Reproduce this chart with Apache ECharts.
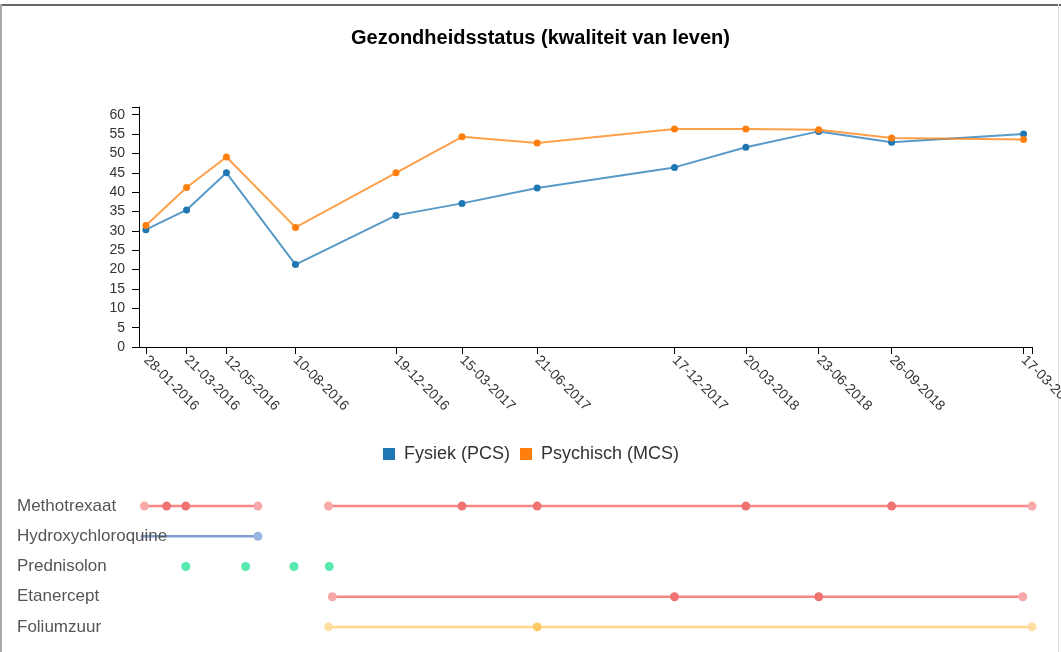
<!DOCTYPE html>
<html>
<head>
<meta charset="utf-8">
<title>Gezondheidsstatus</title>
<script src="https://cdn.jsdelivr.net/npm/echarts@6/dist/echarts.min.js"></script>
<style>
html, body { margin: 0; padding: 0; background: #fff; }
#chart { width: 1061px; height: 652px; }
</style>
</head>
<body>
<div id="chart"></div>
<script>
// meetmomenten + scores
var visitDates = ['2016-01-28', '2016-03-21', '2016-05-12', '2016-08-10', '2016-12-19', '2017-03-15',
  '2017-06-21', '2017-12-17', '2018-03-20', '2018-06-23', '2018-09-26', '2019-03-17'];
var pcsValues = [30.3, 35.4, 45.0, 21.3, 34.0, 37.1, 41.1, 46.4, 51.6, 55.7, 52.9, 55.0];
var mcsValues = [31.4, 41.2, 49.1, 30.9, 45.0, 54.3, 52.7, 56.3, 56.3, 56.1, 54.0, 53.6];
var yTicks = [0, 5, 10, 15, 20, 25, 30, 35, 40, 45, 50, 55, 60];
var yTop = 62;
var axisStart = '2016-01-19';
var axisEnd = '2019-03-28';

// medicatie
var medNames = ['Methotrexaat', 'Hydroxychloroquine', 'Prednisolon', 'Etanercept', 'Foliumzuur'];
var mtxPeriod1 = ['2016-01-26', '2016-02-24', '2016-03-20', '2016-06-22'];
var mtxPeriod2 = ['2016-09-22', '2017-03-15', '2017-06-21', '2018-03-20', '2018-09-26', '2019-03-28'];
var hcqPeriod = ['2016-01-21', '2016-06-22'];
var predDoses = ['2016-03-20', '2016-06-06', '2016-08-08', '2016-09-23'];
var etaPeriod = ['2016-09-27', '2017-12-17', '2018-06-23', '2019-03-16'];
var folPeriod = ['2016-09-22', '2017-06-21', '2019-03-28'];

function ts(s) {
  var p = s.split('-');
  return Date.UTC(+p[0], +p[1] - 1, +p[2]);
}
function pad(n) {
  return n < 10 ? '0' + n : '' + n;
}
function fmtDate(v) {
  var d = new Date(v);
  return pad(d.getUTCDate()) + '-' + pad(d.getUTCMonth() + 1) + '-' + d.getUTCFullYear();
}

var visitTs = visitDates.map(ts);
var GRID_LEFT = 139;
var GRID_RIGHT = 29;
var FONT = 'Liberation Sans, Arial, sans-serif';

// een lijn per periode, begin/eind lichter
function medLine(name, dates, color, hideStart) {
  return {
    name: name,
    type: 'line',
    xAxisIndex: 1,
    yAxisIndex: 1,
    symbol: 'circle',
    symbolSize: 9,
    lineStyle: { color: color.line, width: 2.5 },
    data: dates.map(function(d, i) {
      var edge = i === 0 || i === dates.length - 1;
      var item = { value: [ts(d), name], itemStyle: { color: edge ? color.light : color.dot } };
      if (i === 0 && hideStart) item.symbol = 'none';
      return item;
    }),
    z: 2
  };
}

var red = { line: '#f58787', dot: '#f07373', light: '#f7a9a9' };
var blue = { line: '#7f9fd3', dot: '#7f9fd3', light: '#98b5e2' };
var yellow = { line: '#ffd88e', dot: '#ffc965', light: '#ffdea3' };

var chart = echarts.init(document.getElementById('chart'));
var option = {
  animation: false,
  backgroundColor: '#fff',
  title: {
    text: 'Gezondheidsstatus (kwaliteit van leven)',
    left: 346,
    top: 23,
    textStyle: { fontSize: 20, fontWeight: 'bold', color: '#000', fontFamily: FONT }
  },
  legend: {
    data: ['Fysiek (PCS)', 'Psychisch (MCS)'],
    top: 440,
    left: 378,
    icon: 'rect',
    itemWidth: 12,
    itemHeight: 12,
    itemGap: 10,
    textStyle: { fontSize: 18, color: '#333', fontFamily: FONT, padding: [0, 0, 0, 4] }
  },
  graphic: [
    { type: 'rect', shape: { x: 0, y: 4, width: 1061, height: 2 }, style: { fill: '#666' } },
    { type: 'rect', shape: { x: 0, y: 4, width: 2, height: 648 }, style: { fill: '#aaa' } },
    { type: 'rect', shape: { x: 1058, y: 4, width: 1, height: 648 }, style: { fill: '#ddd' } }
  ],
  grid: [
    { left: GRID_LEFT, right: GRID_RIGHT, top: 107, bottom: 305, outerBoundsMode: 'none' },
    { left: GRID_LEFT, right: GRID_RIGHT, top: 491, bottom: 10, outerBoundsMode: 'none' }
  ],
  xAxis: [
    {
      type: 'value',
      gridIndex: 0,
      min: ts(axisStart),
      max: ts(axisEnd),
      axisLine: { show: true, onZero: false, lineStyle: { color: '#000', width: 1 } },
      axisTick: { show: true, length: 7, customValues: visitTs.concat([ts(axisEnd)]), lineStyle: { color: '#000' } },
      axisLabel: {
        customValues: visitTs,
        rotate: -45,
        margin: 11,
        formatter: fmtDate,
        color: '#333',
        fontSize: 14,
        fontFamily: FONT
      },
      splitLine: { show: false }
    },
    {
      type: 'value',
      gridIndex: 1,
      min: ts(axisStart),
      max: ts(axisEnd),
      show: false
    }
  ],
  yAxis: [
    {
      type: 'value',
      gridIndex: 0,
      min: 0,
      max: yTop,
      axisLine: { show: true, lineStyle: { color: '#000', width: 1 } },
      axisTick: { show: true, length: 7, customValues: yTicks.concat([yTop]), lineStyle: { color: '#000' } },
      axisLabel: { customValues: yTicks, margin: 14, color: '#333', fontSize: 14, fontFamily: FONT },
      splitLine: { show: false }
    },
    {
      type: 'category',
      gridIndex: 1,
      data: medNames,
      inverse: true,
      z: 5,
      axisLine: { show: false },
      axisTick: { show: false },
      axisLabel: { align: 'left', margin: 122, color: '#555', fontSize: 17, fontFamily: FONT },
      splitLine: { show: false }
    }
  ],
  series: [
    {
      name: 'Fysiek (PCS)',
      type: 'line',
      symbol: 'circle',
      symbolSize: 7,
      itemStyle: { color: '#1f77b4' },
      lineStyle: { color: '#1f77b4', width: 2, opacity: 0.75 },
      data: visitTs.map(function(t, i) { return [t, pcsValues[i]]; })
    },
    {
      name: 'Psychisch (MCS)',
      type: 'line',
      symbol: 'circle',
      symbolSize: 7,
      itemStyle: { color: '#ff7f0e' },
      lineStyle: { color: '#ff7f0e', width: 2, opacity: 0.75 },
      data: visitTs.map(function(t, i) { return [t, mcsValues[i]]; })
    },
    medLine('Methotrexaat', mtxPeriod1, red),
    medLine('Methotrexaat', mtxPeriod2, red),
    medLine('Hydroxychloroquine', hcqPeriod, blue, true),
    {
      name: 'Prednisolon',
      type: 'scatter',
      xAxisIndex: 1,
      yAxisIndex: 1,
      symbol: 'circle',
      symbolSize: 9,
      itemStyle: { color: '#2de39a' },
      data: predDoses.map(function(d) { return [ts(d), 'Prednisolon']; })
    },
    medLine('Etanercept', etaPeriod, red),
    medLine('Foliumzuur', folPeriod, yellow)
  ]
};
chart.setOption(option);
</script>
</body>
</html>
